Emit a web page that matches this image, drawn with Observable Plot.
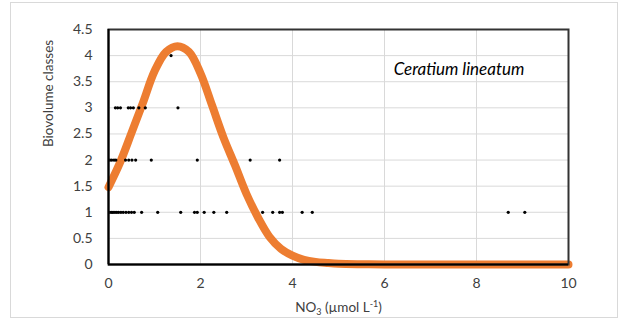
<!DOCTYPE html>
<html>
<head>
<meta charset="utf-8">
<script src="https://cdn.jsdelivr.net/npm/d3@7"></script>
<script src="https://cdn.jsdelivr.net/npm/@observablehq/plot@0.6"></script>
<style>
  html, body { margin: 0; padding: 0; background: #fff; }
  #wrap { position: relative; width: 620px; height: 323px; }
  #border { position: absolute; left: 10px; top: 2px; width: 608px; height: 316px; box-sizing: border-box; border: 1px solid #d9d9d9; pointer-events: none; }
</style>
</head>
<body>
<div id="wrap"><div id="border"></div></div>
<script>
// Tick values
const xTicks = [0, 2, 4, 6, 8, 10];
const yTicks = [0, 0.5, 1, 1.5, 2, 2.5, 3, 3.5, 4, 4.5];

// Fitted curve
const curveX = [0, 0.25, 0.5, 0.75, 1.0, 1.25, 1.5, 1.75, 2.0, 2.25, 2.5, 2.75, 3.0, 3.25, 3.5, 3.75, 4.0, 4.25, 4.5, 4.75, 5.0, 5.5, 6, 7, 8, 9, 10];
const curveY = [1.48, 1.95, 2.52, 3.1, 3.7, 4.07, 4.18, 4.07, 3.66, 3.05, 2.43, 1.9, 1.35, 0.9, 0.53, 0.3, 0.17, 0.09, 0.05, 0.03, 0.015, 0.005, 0, 0, 0, 0, 0];

// Observations: NO3 values per biovolume class
const class1 = [0.03, 0.07, 0.1, 0.14, 0.18, 0.22, 0.27, 0.32, 0.38, 0.44, 0.5, 0.56, 0.72, 1.07, 1.57, 1.87, 1.93, 2.08, 2.29, 2.57, 3.35, 3.57, 3.72, 3.78, 4.21, 4.43, 8.69, 9.05];
const class2 = [0.03, 0.07, 0.12, 0.16, 0.37, 0.44, 0.51, 0.59, 0.93, 1.93, 3.08, 3.72];
const class3 = [0.15, 0.2, 0.26, 0.43, 0.48, 0.54, 0.66, 0.8, 1.51];
const class4 = [1.36];

const curve = curveX.map((x, i) => ({x, y: curveY[i]}));
const obs = [
  ...class1.map(x => ({x, y: 1})),
  ...class2.map(x => ({x, y: 2})),
  ...class3.map(x => ({x, y: 3})),
  ...class4.map(x => ({x, y: 4}))
];

const font = "Lato, 'Open Sans', sans-serif";

const chart = Plot.plot({
  width: 620,
  height: 323,
  marginLeft: 108,
  marginRight: 52,
  marginTop: 29,
  marginBottom: 59,
  x: {domain: [0, 10]},
  y: {domain: [0, 4.5]},
  style: {fontFamily: font, fontSize: "14px", color: "#404040", background: "transparent"},
  marks: [
    Plot.gridY(yTicks, {stroke: "#d9d9d9", strokeOpacity: 1}),
    Plot.gridX([2, 4, 6, 8], {stroke: "#d9d9d9", strokeOpacity: 1}),
    Plot.axisY(yTicks, {tickSize: 0, tickPadding: 16, tickFormat: d => String(d), label: null, fontSize: 14, fill: "#404040"}),
    Plot.axisX(xTicks, {tickSize: 0, tickPadding: 14, tickFormat: d => String(d), label: null, fontSize: 14, fill: "#404040"}),
    Plot.line(curve, {x: "x", y: "y", stroke: "#ED7D31", strokeWidth: 8, curve: "catmull-rom", strokeLinecap: "round", strokeLinejoin: "round"}),
    Plot.dot(obs, {x: "x", y: "y", r: 1.6, fill: "#000", stroke: "none"}),
    Plot.frame({stroke: "#333", strokeWidth: 2}),
    Plot.ruleY([0], {stroke: "#000", strokeWidth: 2}),
    Plot.ruleX([0], {stroke: "#000", strokeWidth: 2}),
    Plot.text(["Ceratium lineatum"], {x: 6.2, y: 3.62, text: d => d, textAnchor: "start", lineAnchor: "bottom", fontStyle: "italic", fontSize: 17, fill: "#000"}),
    Plot.text(["Biovolume classes"], {frameAnchor: "left", dx: -60, rotate: -90, text: d => d, lineAnchor: "middle", fontSize: 13.5, fill: "#404040"}),
    Plot.text(["NO3 (µmol L-1)"], {frameAnchor: "bottom", dy: 43, text: d => d, lineAnchor: "middle", fontSize: 13.5, fill: "#404040", className: "xlabel"})
  ]
});

document.getElementById("wrap").appendChild(chart);

// Add sub/superscripts to the x-axis title
const lab = chart.querySelector(".xlabel text");
if (lab) {
  lab.textContent = "";
  const ns = "http://www.w3.org/2000/svg";
  const parts = [
    ["NO", 0, null],
    ["3", 3, 9],
    [" (µmol L", -3, null],
    ["-1", -5, 9],
    [")", 5, null]
  ];
  for (const [t, dy, fs] of parts) {
    const ts = document.createElementNS(ns, "tspan");
    ts.textContent = t;
    if (dy) ts.setAttribute("dy", dy);
    if (fs) ts.setAttribute("font-size", fs);
    lab.appendChild(ts);
  }
}
</script>
</body>
</html>
